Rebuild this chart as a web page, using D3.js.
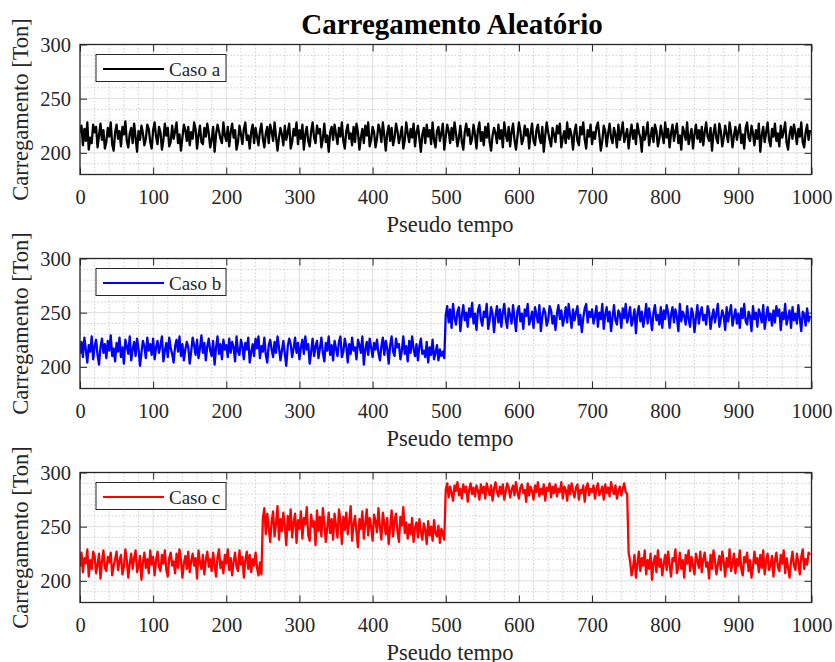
<!DOCTYPE html>
<html>
<head>
<meta charset="utf-8">
<script src="https://cdn.jsdelivr.net/npm/d3@7"></script>
<style>
  body { margin: 0; background: #fff; }
  svg { display: block; }
  text { font-family: "Liberation Serif", "Times New Roman", serif; }
</style>
</head>
<body>
<svg id="chart" width="835" height="662"></svg>
<script>
// Load samples, one value every 2 pseudo-time units (t = 0, 2, ..., 998)
const casoA = [
  218,225,207,222,211,228,203,214,209,226,219,224,205,216,227,212,221,204,210,223,215,228,208,202,219,
  226,213,220,206,224,217,229,211,205,218,223,209,227,214,201,220,212,225,218,207,213,226,222,210,204,
  221,228,215,208,224,219,203,212,227,216,223,206,210,225,213,220,228,209,217,202,214,226,221,211,224,
  207,219,213,228,222,204,216,225,210,208,223,215,227,218,205,212,224,201,217,226,220,213,209,228,216,
  211,224,206,219,227,214,221,203,210,225,217,208,222,228,212,216,204,219,226,209,223,215,207,220,227,
  213,205,218,224,209,226,220,211,228,215,202,214,223,217,207,225,212,219,227,204,210,222,216,228,208,
  221,213,226,203,217,224,211,206,220,228,214,209,225,218,222,205,213,227,210,216,201,219,224,212,226,
  217,208,223,215,228,211,204,220,226,213,218,207,224,210,227,219,203,214,222,209,225,216,228,206,212,
  224,219,205,213,226,221,210,228,216,202,218,225,211,223,207,214,227,220,209,216,224,204,212,228,218,
  210,222,214,227,206,219,225,213,201,217,223,209,226,215,221,208,228,212,205,220,224,211,218,227,203,
  215,226,220,209,223,212,228,218,206,214,225,210,203,219,227,216,222,208,213,226,217,204,221,228,211,
  219,207,224,214,227,210,202,216,223,218,209,226,213,221,205,228,217,211,224,206,219,227,212,203,215,
  228,220,208,213,225,216,222,204,218,227,211,207,221,226,214,209,224,201,216,228,219,212,206,223,217,
  210,225,218,227,205,214,220,209,228,213,222,216,203,219,226,211,207,224,217,228,212,204,221,215,226,
  208,219,213,224,228,216,202,211,225,220,206,218,227,214,209,223,217,205,226,212,219,228,210,216,222,
  204,217,226,213,221,208,227,219,214,201,224,212,218,228,207,215,223,210,226,220,206,213,225,217,209,
  228,214,222,205,218,226,211,220,227,209,216,203,224,219,212,228,208,215,222,204,217,226,213,221,210,
  224,207,219,228,215,211,223,202,218,226,213,209,227,220,206,214,225,217,210,228,219,205,216,224,212,
  220,226,209,217,204,223,228,214,211,225,218,207,221,213,227,201,216,224,210,219,228,212,206,222,215,
  227,211,218,206,225,214,220,228,209,203,217,224,213,226,219,208,222,215,228,210,205,219,226,212,221
];

const casoB = [
  212,223,209,227,216,204,220,214,228,207,219,225,211,202,218,226,213,221,208,224,215,229,210,217,205,
  222,214,227,209,218,203,225,219,212,228,206,216,223,210,226,217,201,213,224,219,208,227,215,221,211,
  226,207,218,224,213,220,228,205,215,222,209,227,217,212,204,219,225,214,228,210,221,206,216,223,218,
  203,214,227,220,211,225,208,217,229,213,222,206,219,226,215,210,224,202,218,228,212,221,207,225,216,
  220,209,226,213,223,218,205,228,214,211,225,219,207,222,216,227,204,213,221,210,226,217,228,208,219,
  214,227,211,204,220,225,216,209,223,213,228,218,206,215,224,212,201,219,226,221,209,217,227,213,222,
  207,218,225,212,228,216,221,203,214,226,210,219,224,208,217,227,213,205,222,215,228,211,220,206,224,
  217,210,223,228,209,214,226,219,204,221,212,227,215,218,207,225,220,213,228,202,216,223,211,226,218,
  209,222,216,225,213,206,219,227,211,224,217,203,220,228,214,210,226,218,221,207,215,228,212,219,205,
  224,213,228,217,210,221,206,219,226,212,215,209,223,204,218,211,225,207,213,220,206,216,210,214,208,
  248,256,241,253,236,258,245,239,251,255,233,247,257,243,250,237,254,246,259,240,249,234,252,257,244,
  238,251,246,258,235,243,255,249,232,247,256,241,253,237,250,258,244,236,254,248,240,257,245,233,252,
  256,242,249,235,253,247,258,239,244,251,236,255,248,241,257,233,246,254,250,238,243,256,252,240,247,
  234,249,257,244,252,238,245,255,241,258,247,236,253,243,250,256,239,248,232,245,254,258,241,251,246,
  253,240,247,256,237,250,244,258,235,248,255,242,251,233,246,257,243,239,252,249,236,254,245,258,241,
  247,255,238,244,253,231,249,256,242,251,237,246,258,240,254,245,234,250,257,243,248,239,255,236,252,
  244,257,250,236,248,255,241,253,246,233,258,242,251,247,239,256,244,237,254,249,232,245,257,240,250,
  255,243,248,239,256,251,235,246,253,241,249,258,237,244,252,247,234,255,242,250,257,238,246,253,240,
  249,236,254,245,258,242,239,251,247,233,256,244,250,237,253,248,241,257,235,246,255,243,249,238,252,
  241,256,247,253,234,250,244,258,239,246,252,236,255,243,249,240,257,245,233,251,248,238,254,242,247
];

const casoC = [
  213,226,208,221,216,229,204,219,211,227,223,207,215,225,202,218,228,212,209,222,217,226,205,214,220,
  227,210,218,224,206,213,229,219,203,216,225,211,221,228,208,214,223,201,217,226,212,220,207,228,215,
  222,205,219,227,213,209,224,216,228,210,204,221,226,214,218,207,225,212,229,219,203,216,223,211,227,
  208,218,225,214,221,202,228,217,211,224,206,219,227,213,220,209,226,215,204,222,229,212,218,207,224,
  216,229,210,221,205,218,226,213,209,228,215,222,203,219,227,211,224,208,220,214,226,212,205,217,206,
  258,267,243,262,249,236,255,264,241,253,269,238,257,246,263,251,233,260,247,266,240,254,262,235,256,
  248,264,239,258,252,268,242,237,261,250,255,233,265,246,259,241,267,254,236,249,263,244,257,238,262,
  251,240,266,256,234,259,247,263,243,255,269,237,252,260,245,231,257,248,264,239,253,266,242,258,250,
  237,261,255,245,267,250,238,263,253,243,258,234,249,265,241,256,262,246,236,259,251,268,244,254,239,
  252,243,258,236,249,254,240,257,245,238,253,247,234,255,242,250,237,256,244,241,251,235,248,243,238,
  284,290,277,287,281,274,288,283,291,279,285,276,289,282,287,273,284,290,280,286,278,288,283,275,289,
  281,287,276,290,284,279,288,274,285,291,282,278,287,280,289,275,283,290,286,277,284,288,279,291,282,
  276,286,289,281,284,273,290,279,287,283,275,288,282,291,278,285,280,289,274,286,283,290,277,287,281,
  289,278,285,282,291,276,287,284,274,288,280,290,283,277,286,289,275,284,281,288,273,286,290,279,285,
  282,288,276,285,290,279,283,287,275,289,281,286,278,291,284,280,288,276,283,287,279,285,290,282,280,
  226,218,205,212,224,203,216,227,209,221,214,228,206,219,211,225,201,217,223,208,228,213,220,205,216,
  224,210,227,215,204,221,218,229,207,213,226,211,219,203,224,216,228,209,222,214,206,225,219,212,227,
  208,220,226,213,217,202,224,211,228,219,206,215,223,210,227,218,204,221,213,229,209,216,225,207,220,
  214,228,211,205,222,217,226,209,219,203,213,227,216,221,208,224,212,228,206,218,225,210,215,223,204,
  219,226,213,209,224,216,228,207,221,212,203,218,227,214,210,225,217,206,222,229,211,220,215,226,224
];

const seriesNames  = ["Caso a", "Caso b", "Caso c"];
const seriesColors = ["#000000", "#0000ff", "#ff0000"];
const seriesData   = [casoA, casoB, casoC];

const xTicks = [0, 100, 200, 300, 400, 500, 600, 700, 800, 900, 1000];
const yTicks = [200, 250, 300];
const xMinor = d3.range(0, 1001, 20);
const yMinor = d3.range(180, 301, 10);
const sampleStep = 2;

const titleText = "Carregamento Aleatório";
const xLabel = "Pseudo tempo";
const yLabel = "Carregamento [Ton]";

// ---- layout ----
const left = 80, right = 811.5;
const panelTops = [44.5, 258.5, 472.5];
const panelH = 130;
const tickLen = 7;
const textColor = "#262626";
const gridMajor = "#dedede";
const gridMinor = "#cfcfcf";

const svg = d3.select("#chart");

svg.append("text")
  .attr("x", 452).attr("y", 34)
  .attr("text-anchor", "middle")
  .attr("font-size", 29).attr("font-weight", "bold")
  .attr("fill", "#000")
  .text(titleText);

const x = d3.scaleLinear().domain([0, 1000]).range([left, right]);

seriesData.forEach((values, k) => {
  const top = panelTops[k];
  const y = d3.scaleLinear().domain([180, 300]).range([top + panelH, top]);
  const g = svg.append("g");

  // grid: minor dotted, then major solid
  g.append("g").selectAll("line")
    .data(xMinor.filter(v => v % 100 !== 0))
    .join("line")
    .attr("x1", d => x(d)).attr("x2", d => x(d))
    .attr("y1", top).attr("y2", top + panelH)
    .attr("stroke", gridMinor).attr("stroke-width", 1).attr("stroke-dasharray", "1.5,2");
  g.append("g").selectAll("line")
    .data(yMinor.filter(v => v % 50 !== 0))
    .join("line")
    .attr("x1", left).attr("x2", right)
    .attr("y1", d => y(d)).attr("y2", d => y(d))
    .attr("stroke", gridMinor).attr("stroke-width", 1).attr("stroke-dasharray", "1.5,2");
  g.append("g").selectAll("line")
    .data(xTicks)
    .join("line")
    .attr("x1", d => x(d)).attr("x2", d => x(d))
    .attr("y1", top).attr("y2", top + panelH)
    .attr("stroke", gridMajor).attr("stroke-width", 1);
  g.append("g").selectAll("line")
    .data(yTicks)
    .join("line")
    .attr("x1", left).attr("x2", right)
    .attr("y1", d => y(d)).attr("y2", d => y(d))
    .attr("stroke", gridMajor).attr("stroke-width", 1);

  // data line
  const clipId = "clip" + k;
  svg.append("clipPath").attr("id", clipId)
    .append("rect").attr("x", left).attr("y", top).attr("width", right - left).attr("height", panelH);
  const line = d3.line()
    .x((d, i) => x(i * sampleStep))
    .y(d => y(d));
  g.append("path")
    .datum(values)
    .attr("clip-path", `url(#${clipId})`)
    .attr("fill", "none")
    .attr("stroke", seriesColors[k])
    .attr("stroke-width", 2.3)
    .attr("stroke-linejoin", "round")
    .attr("d", line);

  // axes with inward ticks
  const axB = g.append("g").attr("transform", `translate(0,${top + panelH})`)
    .call(d3.axisBottom(x).tickValues(xTicks).tickSize(-tickLen).tickPadding(15).tickFormat(d3.format("d")));
  const axT = g.append("g").attr("transform", `translate(0,${top})`)
    .call(d3.axisTop(x).tickValues(xTicks).tickSize(-tickLen).tickFormat(""));
  const axL = g.append("g").attr("transform", `translate(${left},0)`)
    .call(d3.axisLeft(y).tickValues(yTicks).tickSize(-tickLen).tickPadding(9).tickFormat(d3.format("d")));
  const axR = g.append("g").attr("transform", `translate(${right},0)`)
    .call(d3.axisRight(y).tickValues(yTicks).tickSize(-tickLen).tickFormat(""));
  [axB, axT, axL, axR].forEach(a => {
    a.select(".domain").remove();
    a.selectAll(".tick line").attr("stroke", textColor).attr("stroke-width", 1);
    a.selectAll(".tick text")
      .attr("font-family", '"Liberation Serif", "Times New Roman", serif')
      .attr("font-size", 20.5).attr("fill", textColor);
  });

  // axes box
  g.append("rect")
    .attr("x", left).attr("y", top).attr("width", right - left).attr("height", panelH)
    .attr("fill", "none").attr("stroke", textColor).attr("stroke-width", 1.3);

  // axis titles
  g.append("text")
    .attr("x", 450).attr("y", top + panelH + 57)
    .attr("text-anchor", "middle").attr("font-size", 22.5).attr("fill", textColor)
    .text(xLabel);
  g.append("text")
    .attr("transform", `translate(28,${top + panelH / 2}) rotate(-90)`)
    .attr("text-anchor", "middle").attr("font-size", 22.5).attr("fill", textColor)
    .text(yLabel);

  // legend
  const lg = g.append("g").attr("transform", `translate(${left + 16},${top + 10})`);
  lg.append("rect").attr("width", 130).attr("height", 27)
    .attr("fill", "#fff").attr("stroke", textColor).attr("stroke-width", 1);
  lg.append("line").attr("x1", 7).attr("x2", 68).attr("y1", 14.5).attr("y2", 14.5)
    .attr("stroke", seriesColors[k]).attr("stroke-width", 2);
  lg.append("text").attr("x", 73).attr("y", 21.5)
    .attr("font-size", 19).attr("fill", textColor)
    .text(seriesNames[k]);
});
</script>
</body>
</html>
